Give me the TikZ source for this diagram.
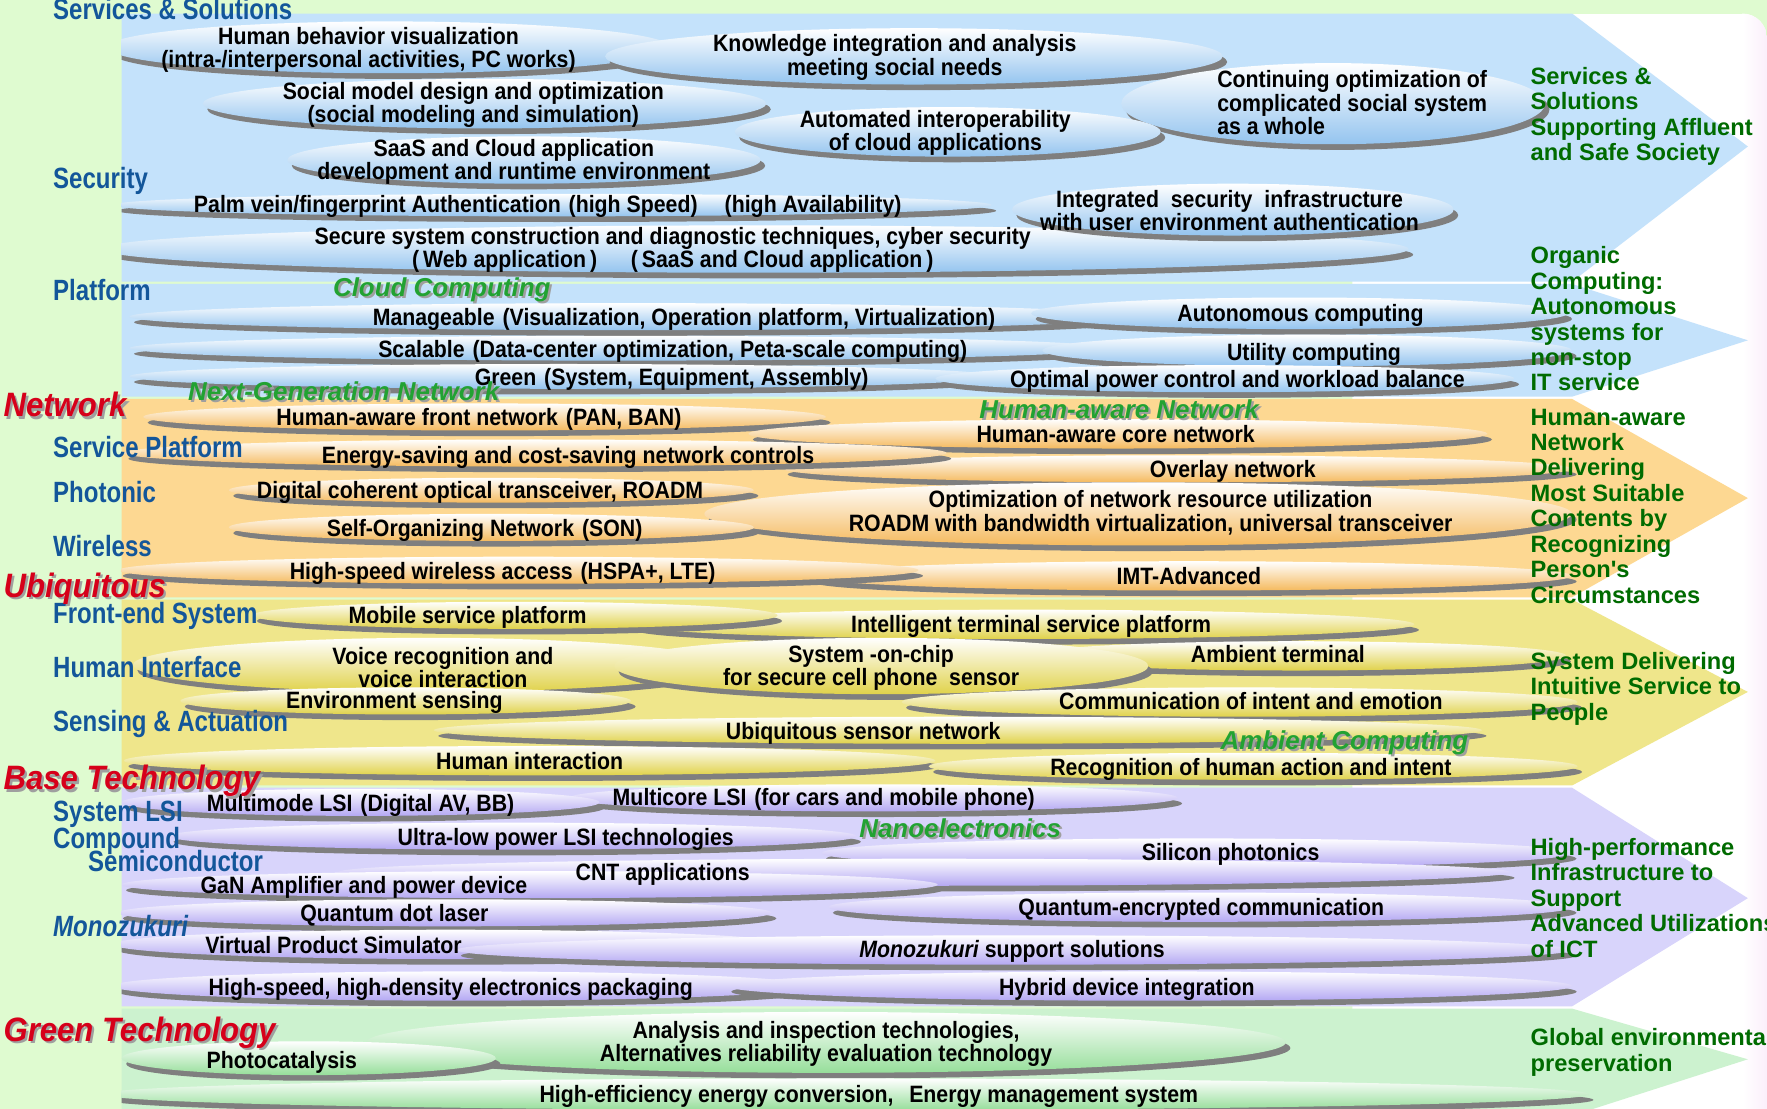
\documentclass[tikz,border=0pt]{standalone}
\usepackage{fontspec}
\usetikzlibrary{shapes.geometric}

\newfontfamily\bodyfont[FakeStretch=0.9]{Liberation Sans}
\newfontfamily\tagfont[FakeStretch=0.82]{Liberation Sans}
\newfontfamily\headfont[FakeStretch=0.92]{Liberation Sans}
\newfontfamily\goalfont{Liberation Sans}

\definecolor{bgGreen}{HTML}{DFFBD0}
\definecolor{bandBlue}{HTML}{C4E2FB}
\definecolor{ellBlue}{HTML}{94C4EF}
\definecolor{bandOrange}{HTML}{FDD892}
\definecolor{ellOrange}{HTML}{F5BA5E}
\definecolor{bandYellow}{HTML}{EFE68B}
\definecolor{ellYellow}{HTML}{E0D24A}
\definecolor{bandPurple}{HTML}{D8D4FB}
\definecolor{ellPurple}{HTML}{B4A8F3}
\definecolor{bandGreen}{HTML}{CCF2CF}
\definecolor{ellGreen}{HTML}{96DE9A}
\definecolor{shadowGray}{HTML}{7F7F7F}
\definecolor{labelBlue}{HTML}{13569A}
\definecolor{sectRed}{HTML}{D6001A}
\definecolor{ccGreen}{HTML}{22A232}
\definecolor{goalGreen}{HTML}{006B00}
\definecolor{edgePink}{HTML}{FBEFFB}

% shaded flat ellipse with a grey drop shadow: name, cx, cy, rx, ry, style
\newcommand\bub[6]{%
  \fill[shadowGray] ({#2+4},{#3+5}) ellipse [x radius=#4pt, y radius=#5pt];
  \node[bubble, #6, minimum width={2*#4pt}, minimum height={2*#5pt}] (#1) at (#2,#3) {};
}
% text with a grey copy underneath: name, x, y, style, text
\newcommand\castlabel[5]{%
  \node[#4, text=gray!75] (#1-sh) at ({#2+2},{#3+2}) {#5};
  \node[#4] (#1) at (#2,#3) {#5};
}

\tikzset{
  bubble/.style={ellipse, inner sep=0pt, outer sep=0pt, draw=none},
  eB/.style={top color=white, bottom color=ellBlue},
  eO/.style={top color=white, bottom color=ellOrange},
  eY/.style={top color=white, bottom color=ellYellow},
  eP/.style={top color=white, bottom color=ellPurple},
  eG/.style={top color=white, bottom color=ellGreen},
  tx/.style={font=\bodyfont\bfseries\fontsize{21}{20.5}\selectfont, inner sep=0pt, text height=15pt, text depth=4pt, yshift=-2.5pt},
  txm/.style={font=\bodyfont\bfseries\fontsize{21}{20.5}\selectfont, inner sep=0pt, align=center, yshift=-2pt},
  tag/.style={font=\tagfont\bfseries\fontsize{26}{26}\selectfont, text=labelBlue, anchor=base west, inner sep=0pt},
  sect/.style={font=\headfont\bfseries\itshape\fontsize{30}{30}\selectfont, text=sectRed, anchor=base west, inner sep=0pt},
  theme/.style={font=\goalfont\bfseries\itshape\fontsize{23}{23}\selectfont, text=ccGreen, anchor=base, inner sep=0pt},
  goal/.style={font=\goalfont\bfseries\fontsize{21}{22.6}\selectfont, text=goalGreen, align=left, anchor=north west, inner sep=0pt},
}

\begin{document}
\begin{tikzpicture}[x=1pt,y=-1pt]
\useasboundingbox (0,0) rectangle (1568,984);
\fill[bgGreen] (0,0) rectangle (1568,984);

% white field behind the arrow heads
\begin{scope}
  \clip[rounded corners=22pt] (1200,12) rectangle (1568,1010);
  \fill[white] (1200,12) rectangle (1568,1010);
  \shade[left color=white, right color=edgePink] (1546,12) rectangle (1568,1010);
\end{scope}

% layer bands
\fill[bandBlue]   (108,12)  -- (1395,12)  -- (1551,130) -- (1395,250) -- (108,250) -- cycle;
\fill[bandBlue]   (108,252) -- (1395,252) -- (1551,302) -- (1395,352) -- (108,352) -- cycle;
\fill[bandOrange] (108,354) -- (1395,354) -- (1551,442) -- (1395,530) -- (108,530) -- cycle;
\fill[bandYellow] (108,532) -- (1395,532) -- (1551,614) -- (1395,697) -- (108,697) -- cycle;
\fill[bandPurple] (108,699) -- (1395,699) -- (1551,797) -- (1395,893) -- (108,893) -- cycle;
\fill[bandGreen]  (108,895) -- (1395,895) -- (1551,940) -- (1395,990) -- (108,990) -- cycle;

\begin{scope}
\clip (108,12) rectangle (1568,990);
% services & solutions, security
\bub{hb}{345}{42}{250}{23}{eB}
\bub{ki}{811}{50}{274}{25}{eB}
\bub{co}{1183}{92}{188}{36}{eB}
\bub{ai}{841}{117}{189}{22}{eB}
\bub{sm}{430}{92}{250}{22}{eB}
\bub{sc}{465}{142}{210}{21}{eB}
\bub{pv}{490}{182}{390}{10}{eB}
\bub{ss}{670}{221}{580}{21}{eB}
\bub{is}{1094}{186}{196}{23}{eB}
% platform
\bub{mg}{560}{281}{445}{12}{eB}
\bub{ac}{1153}{278}{238}{14}{eB}
\bub{sl}{550}{309}{435}{11}{eB}
\bub{uc}{1160}{311}{235}{14}{eB}
\bub{gr}{500}{334}{385}{11}{eB}
\bub{op}{1087}{336}{257}{12}{eB}
% network
\bub{hf}{430}{370}{303}{12}{eO}
\bub{hc}{992}{385}{328}{13}{eO}
\bub{ov}{1045}{416}{350}{12}{eO}
\bub{es}{475}{402}{365}{12}{eO}
\bub{nr}{1010}{456}{385}{28}{eO}
\bub{dc}{436}{435}{233}{11}{eO}
\bub{so}{436}{468}{233}{12}{eO}
\bub{imt}{1055}{511}{340}{13}{eO}
\bub{hw}{460}{506}{355}{12}{eO}
% ubiquitous
\bub{it}{907}{554}{348}{13}{eY}
\bub{ms}{457}{546}{233}{12}{eY}
\bub{at}{1150}{582}{240}{13}{eY}
\bub{vr}{380}{590}{262}{24}{eY}
\bub{soc}{782}{591}{237}{25}{eY}
\bub{cm}{1100}{623}{300}{13}{eY}
\bub{en}{360}{622}{200}{12}{eY}
\bub{us}{850}{648}{465}{12}{eY}
\bub{hi}{470}{675}{360}{13}{eY}
\bub{rh}{1112}{680}{288}{12}{eY}
% base technology
\bub{mc}{775}{708}{270}{12}{eP}
\bub{ml}{320}{712}{212}{12}{eP}
\bub{ul}{455}{742}{305}{12}{eP}
\bub{sp}{1062}{757}{333}{13}{eP}
\bub{cnt}{820}{774}{520}{12}{eP}
\bub{gan}{470}{785}{362}{12}{eP}
\bub{qe}{1065}{805}{330}{13}{eP}
\bub{qd}{395}{810}{290}{12}{eP}
\bub{vp}{400}{838}{300}{13}{eP}
\bub{mz}{900}{843}{495}{13}{eP}
\bub{hs}{410}{875}{310}{13}{eP}
\bub{hd}{1020}{875}{375}{13}{eP}
% green technology
\bub{an}{733}{925}{408}{27}{eG}
\bub{ph}{274}{939}{166}{15}{eG}
\bub{he}{750}{971}{660}{14}{eG}
\end{scope}

% item texts
\node[txm] (t-hb) at (327,42) {Human behavior visualization\\(intra-/interpersonal activities, PC works)};
\node[txm] (t-ki) at (794,49) {Knowledge integration and analysis\\meeting social needs};
\node[txm] (t-sm) at (420,91) {Social model design and optimization\\(social modeling and simulation)};
\node[txm] (t-ai) at (830,116) {Automated interoperability\\of cloud applications};
\node[txm, align=left, anchor=west] (t-co) at (1080,89) {Continuing optimization of\\complicated social system\\as a whole};
\node[txm] (t-sc) at (456,142) {SaaS and Cloud application\\development and runtime environment};
\node[tx] (t-pv) at (486,181) {Palm vein/fingerprint Authentication\,\,(high Speed)\hspace{24pt}(high Availability)};
\node[txm] (t-is) at (1091,185) {Integrated\ \ security\ \ infrastructure\\with user environment authentication};
\node[txm] (t-ss) at (597,220) {Secure system construction and diagnostic techniques, cyber security\\(\,Web application\,)\hspace{30pt}(\,SaaS and Cloud application\,)};

\node[tx] (t-mg) at (607,281) {Manageable\,\,(Visualization, Operation platform, Virtualization)};
\node[tx] (t-ac) at (1154,277) {Autonomous computing};
\node[tx] (t-sl) at (597,309) {Scalable\,\,(Data-center optimization, Peta-scale computing)};
\node[tx] (t-uc) at (1166,312) {Utility computing};
\node[tx] (t-gr) at (596,334) {Green\,\,(System, Equipment, Assembly)};
\node[tx] (t-op) at (1098,336) {Optimal power control and workload balance};

\node[tx] (t-hf) at (425,370) {Human-aware front network\,\,(PAN, BAN)};
\node[tx] (t-hc) at (990,385) {Human-aware core network};
\node[tx] (t-es) at (504,403) {Energy-saving and cost-saving network controls};
\node[tx] (t-ov) at (1094,416) {Overlay network};
\node[tx] (t-dc) at (426,434) {Digital coherent optical transceiver, ROADM};
\node[txm] (t-nr) at (1021,453) {Optimization of network resource utilization\\ROADM with bandwidth virtualization, universal transceiver};
\node[tx] (t-so) at (430,468) {Self-Organizing Network\,\,(SON)};
\node[tx] (t-hw) at (446,506) {High-speed wireless access\,\,(HSPA+, LTE)};
\node[tx] (t-imt) at (1055,511) {IMT-Advanced};

\node[tx] (t-ms) at (415,545) {Mobile service platform};
\node[tx] (t-it) at (915,553) {Intelligent terminal service platform};
\node[txm] (t-vr) at (393,590) {Voice recognition and\\voice interaction};
\node[txm] (t-soc) at (773,591) {System -on-chip\\for secure cell phone\ \ sensor};
\node[tx] (t-at) at (1134,580) {Ambient terminal};
\node[tx] (t-en) at (350,621) {Environment sensing};
\node[tx] (t-cm) at (1110,622) {Communication of intent and emotion};
\node[tx] (t-us) at (766,648) {Ubiquitous sensor network};
\node[tx] (t-hi) at (470,675) {Human interaction};
\node[tx] (t-rh) at (1110,680) {Recognition of human action and intent};

\node[tx] (t-ml) at (320,712) {Multimode LSI\,\,(Digital AV, BB)};
\node[tx] (t-mc) at (731,707) {Multicore LSI\,\,(for cars and mobile phone)};
\node[tx] (t-ul) at (502,742) {Ultra-low power LSI technologies};
\node[tx] (t-sp) at (1092,756) {Silicon photonics};
\node[tx] (t-cnt) at (588,773) {CNT applications};
\node[tx] (t-gan) at (323,785) {GaN Amplifier and power device};
\node[tx] (t-qd) at (350,810) {Quantum dot laser};
\node[tx] (t-qe) at (1066,804) {Quantum-encrypted communication};
\node[tx] (t-vp) at (296,838) {Virtual Product Simulator};
\node[tx] (t-mz) at (898,842) {{\itshape Monozukuri} support solutions};
\node[tx] (t-hs) at (400,875) {High-speed, high-density electronics packaging};
\node[tx] (t-hd) at (1000,875) {Hybrid device integration};

\node[txm] (t-an) at (733,924) {Analysis and inspection technologies,\\Alternatives reliability evaluation technology};
\node[tx] (t-ph) at (250,940) {Photocatalysis};
\node[tx] (t-he) at (771,970) {High-efficiency energy conversion,\hspace{14pt}Energy management system};

% themes inside the bands
\castlabel{cc}{392}{263}{theme}{Cloud Computing}
\castlabel{ngn}{305}{355}{theme}{Next-Generation Network}
\castlabel{han}{993}{371}{theme}{Human-aware Network}
\castlabel{amb}{1193}{665}{theme}{Ambient Computing}
\castlabel{nano}{852}{743}{theme}{Nanoelectronics}

% goals at the arrow heads
\node[goal] (g1) at (1358,59.5) {Services \&\\Solutions\\Supporting Affluent\\and Safe Society};
\node[goal] (g2) at (1358,218.5) {Organic\\Computing:\\Autonomous\\systems for\\non-stop\\IT service};
\node[goal] (g3) at (1358,362.5) {Human-aware\\Network\\Delivering\\Most Suitable\\Contents by\\Recognizing\\Person's\\Circumstances};
\node[goal] (g4) at (1358,578.5) {System Delivering\\Intuitive Service to\\People};
\node[goal] (g5) at (1358,743.5) {High-performance\\Infrastructure to\\Support\\Advanced Utilizations\\of ICT};
\node[goal] (g6) at (1358,912.5) {Global environmental\\preservation};

% layer names
\node[tag] (l-ss) at (47,17) {Services \& Solutions};
\node[tag] (l-sec) at (47,167) {Security};
\node[tag] (l-pf) at (47,267) {Platform};
\node[tag] (l-sp) at (47,406) {Service Platform};
\node[tag] (l-ph) at (47,446) {Photonic};
\node[tag] (l-wl) at (47,494) {Wireless};
\node[tag] (l-fe) at (47,553) {Front-end System};
\node[tag] (l-hi) at (47,601) {Human Interface};
\node[tag] (l-sa) at (47,649) {Sensing \& Actuation};
\node[tag] (l-lsi) at (47,729) {System LSI};
\node[tag] (l-cp) at (47,753) {Compound};
\node[tag] (l-sc) at (78,773) {Semiconductor};
\node[tag, font=\tagfont\bfseries\itshape\fontsize{26}{26}\selectfont] (l-mz) at (47,831) {Monozukuri};

% section names
\castlabel{s-net}{3}{370}{sect}{Network}
\castlabel{s-ubi}{3}{530}{sect}{Ubiquitous}
\castlabel{s-base}{3}{701}{sect}{Base Technology}
\castlabel{s-green}{3}{924}{sect}{Green Technology}
\end{tikzpicture}
\end{document}
